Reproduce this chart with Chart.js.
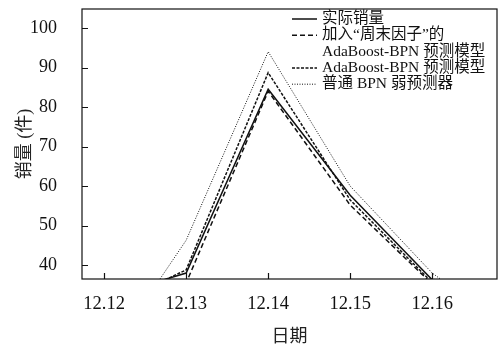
<!DOCTYPE html>
<html>
<head>
<meta charset="utf-8">
<script src="https://cdn.jsdelivr.net/npm/chart.js@4"></script>
<style>
  html, body { margin: 0; padding: 0; background: #fff; }
  #wrap { width: 499px; height: 346px; }
</style>
</head>
<body>
<div id="wrap"><canvas id="c"></canvas></div>
<script>
// categories (dates); the last one lies outside the visible range
const categories = ['12.12', '12.13', '12.14', '12.15', '12.16', '12.17'];

const seriesNames = [
    '实际销量',
    '加入“周末因子”的\nAdaBoost-BPN 预测模型',
    'AdaBoost-BPN 预测模型',
    '普通 BPN 弱预测器'
];

const actualSales = [31.8, 38.0, 84.5, 57.7, 36.3, 25];
const weekendAdaBoost = [22.0, 35.5, 84.0, 55.2, 35.2, 24];
const plainAdaBoost = [29.0, 38.8, 88.7, 56.5, 35.6, 24];
const plainBpn = [15.6, 46.3, 94.0, 60.0, 38.0, 23];

const yTicks = [40, 50, 60, 70, 80, 90, 100];

const FONT = "'Liberation Serif', 'Noto Sans CJK SC', serif";

function toPoints(values) {
    return values.map((v, i) => ({ x: i, y: v }));
}

// inward tick marks + frame around the plot
const frameTicks = {
    id: 'frameTicks',
    afterDraw(chart) {
        const ctx = chart.ctx;
        const a = chart.chartArea;
        const xs = chart.scales.x, ys = chart.scales.y;
        ctx.save();
        ctx.strokeStyle = '#111';
        ctx.lineWidth = 1.2;
        ctx.setLineDash([]);
        ctx.strokeRect(a.left, a.top, a.right - a.left, a.bottom - a.top);
        ctx.beginPath();
        xs.ticks.forEach(t => {
            const px = Math.round(xs.getPixelForValue(t.value)) + 0.5;
            ctx.moveTo(px, a.bottom);
            ctx.lineTo(px, a.bottom - 6);
        });
        ys.ticks.forEach(t => {
            const py = Math.round(ys.getPixelForValue(t.value)) + 0.5;
            ctx.moveTo(a.left, py);
            ctx.lineTo(a.left + 6, py);
        });
        ctx.stroke();
        ctx.restore();
    }
};

// legend drawn inside the top right corner
const innerLegend = {
    id: 'innerLegend',
    afterDraw(chart) {
        const ctx = chart.ctx;
        const x0 = 292, x1 = 317, tx = 322;
        let y = 19;
        const step = 16.3;
        ctx.save();
        ctx.font = '15.5px ' + FONT;
        ctx.fillStyle = '#111';
        ctx.textBaseline = 'middle';
        chart.data.datasets.forEach(ds => {
            const lines = ds.label.split('\n');
            ctx.strokeStyle = '#111';
            ctx.lineWidth = ds.borderWidth;
            ctx.setLineDash(ds.borderDash || []);
            ctx.beginPath();
            ctx.moveTo(x0, y);
            ctx.lineTo(x1, y);
            ctx.stroke();
            lines.forEach(l => {
                ctx.fillText(l, tx, y);
                y += step;
            });
        });
        ctx.restore();
    }
};

new Chart(document.getElementById('c'), {
    type: 'line',
    data: {
        datasets: [
            { label: seriesNames[0], data: toPoints(actualSales), borderColor: '#111', borderWidth: 1.5 },
            { label: seriesNames[1], data: toPoints(weekendAdaBoost), borderColor: '#111', borderWidth: 1.5, borderDash: [5, 3] },
            { label: seriesNames[2], data: toPoints(plainAdaBoost), borderColor: '#111', borderWidth: 1.5, borderDash: [3, 1.5] },
            { label: seriesNames[3], data: toPoints(plainBpn), borderColor: '#111', borderWidth: 1, borderDash: [1, 1.5] }
        ]
    },
    options: {
        responsive: true,
        maintainAspectRatio: false,
        animation: false,
        layout: { padding: { left: 0, right: 2, top: 9, bottom: 0 } },
        elements: { point: { radius: 0 }, line: { tension: 0 } },
        plugins: { legend: { display: false }, tooltip: { enabled: false } },
        scales: {
            x: {
                type: 'linear',
                min: -0.27,
                max: 4.79,
                border: { display: false },
                grid: { display: false, drawTicks: false },
                afterBuildTicks: axis => {
                    axis.ticks = categories.slice(0, 5).map((c, i) => ({ value: i }));
                },
                afterFit: s => {
                    s.height = 67;
                    s.paddingLeft = 0;
                    s.paddingRight = 0;
                },
                ticks: {
                    padding: 14,
                    color: '#111',
                    font: { family: FONT, size: 18.5 },
                    callback: v => categories[v]
                },
                title: {
                    display: true,
                    text: '日期',
                    color: '#222',
                    font: { family: FONT, size: 18 },
                    padding: { top: 0, bottom: -2 }
                }
            },
            y: {
                min: 36.5,
                max: 104.8,
                border: { display: false },
                grid: { display: false, drawTicks: false },
                afterBuildTicks: axis => {
                    axis.ticks = yTicks.map(v => ({ value: v }));
                },
                afterFit: s => {
                    s.width = 82;
                    s.paddingTop = 0;
                    s.paddingBottom = 0;
                },
                ticks: {
                    padding: 25,
                    color: '#111',
                    font: { family: FONT, size: 18 }
                },
                title: {
                    display: true,
                    text: '销量 (件)',
                    color: '#222',
                    font: { family: FONT, size: 18 },
                    padding: { top: 14, bottom: 0 }
                }
            }
        }
    },
    plugins: [frameTicks, innerLegend]
});
</script>
</body>
</html>
